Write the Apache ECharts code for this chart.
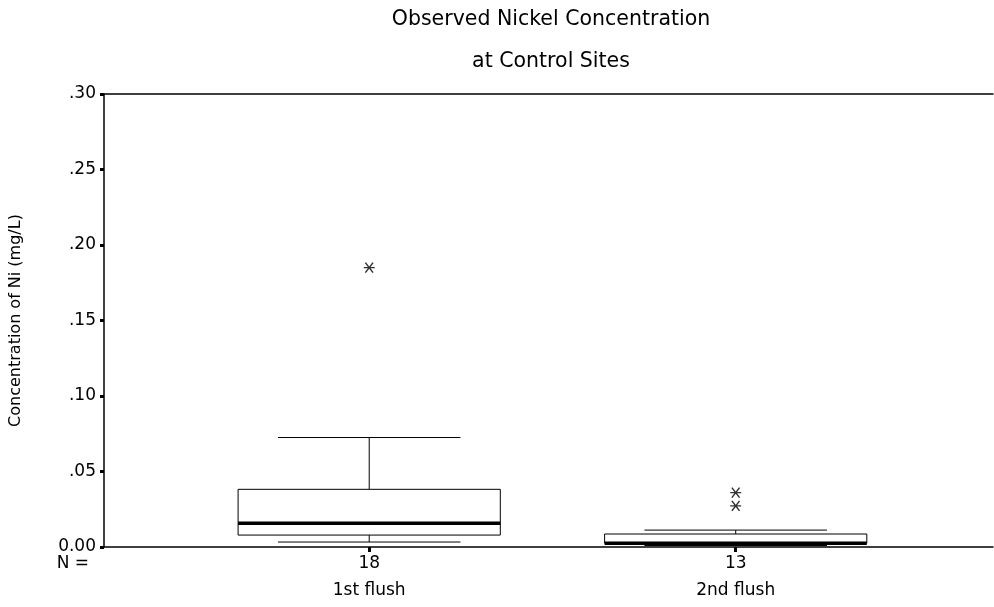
<!DOCTYPE html>
<html>
<head>
<meta charset="utf-8">
<script src="https://cdn.jsdelivr.net/npm/echarts@6/dist/echarts.min.js"></script>
<style>html,body{margin:0;padding:0;background:#fff}#c{width:994px;height:607px}</style>
</head>
<body>
<div id="c"></div>
<script>
const categories = ['1st flush', '2nd flush'];
const counts = [18, 13];
const lowerWhisker = [0.0033, 0.001];
const q1 = [0.0079, 0.0025];
const median = [0.0157, 0.0025];
const q3 = [0.0382, 0.0086];
const upperWhisker = [0.0725, 0.0112];
const outliers = [[1, 0.185], [2, 0.036], [2, 0.0272]];

const boxData = categories.map((c, i) => [i + 1, lowerWhisker[i], q1[i], median[i], q3[i], upperWhisker[i]]);
const FONT = 'DejaVu Sans';

const chart = echarts.init(document.getElementById('c'));
chart.setOption({
  animation: false,
  backgroundColor: '#fff',
  title: {
    text: 'Observed Nickel Concentration\nat Control Sites',
    left: 546, top: -6, textAlign: 'center',
    textStyle: { fontFamily: FONT, fontSize: 20.5, fontWeight: 'normal', color: '#000', lineHeight: 42 }
  },
  graphic: [{
    type: 'text', x: 89, y: 564,
    style: { text: 'N =', fontFamily: FONT, fontSize: 17, fill: '#000', align: 'right', verticalAlign: 'middle' }
  }],
  grid: { left: 97, right: 1, top: 94, bottom: 60 },
  xAxis: [{
    type: 'value', min: 0.2764, max: 2.702,
    axisLine: { lineStyle: { color: '#000', width: 1.5 } },
    axisTick: { customValues: [1, 2], length: 5, lineStyle: { color: '#000', width: 3 } },
    axisLabel: {
      customValues: [1, 2], margin: 3,
      formatter: v => counts[Math.round(v) - 1] + '\n' + categories[Math.round(v) - 1],
      fontFamily: FONT, fontSize: 17, color: '#000', lineHeight: 27
    },
    splitLine: { show: false }
  }, {
    type: 'value', position: 'top', min: 0.2764, max: 2.702,
    axisLine: { show: true, onZero: false, lineStyle: { color: '#000', width: 1.5 } },
    axisTick: { show: false }, axisLabel: { show: false }, splitLine: { show: false }
  }],
  yAxis: {
    type: 'value', min: 0, max: 0.3, interval: 0.05,
    name: 'Concentration of Ni (mg/L)', nameLocation: 'middle', nameGap: 80, nameRotate: 90,
    nameTextStyle: { fontFamily: FONT, fontSize: 16, color: '#000' },
    axisLine: { show: true, lineStyle: { color: '#000', width: 1.5 } },
    axisTick: { show: true, length: 4, lineStyle: { color: '#000', width: 3 } },
    axisLabel: {
      margin: 8, fontFamily: FONT, fontSize: 17, color: '#000',
      formatter: v => v === 0 ? '0.00' : v.toFixed(2).replace(/^0/, '')
    },
    splitLine: { show: false }
  },
  series: [{
    type: 'custom',
    xAxisIndex: 0,
    data: boxData,
    encode: { x: 0, y: [1, 2, 3, 4, 5] },
    renderItem: function (params, api) {
      const x = api.value(0);
      const halfBox = api.size([0.3577, 0])[0];
      const halfCap = api.size([0.249, 0])[0];
      const pl = api.coord([x, api.value(1)]);
      const p1 = api.coord([x, api.value(2)]);
      const pm = api.coord([x, api.value(3)]);
      const p3 = api.coord([x, api.value(4)]);
      const pu = api.coord([x, api.value(5)]);
      const cx = pm[0];
      const st = { stroke: '#000', lineWidth: 1, fill: null };
      return {
        type: 'group',
        children: [
          { type: 'line', shape: { x1: cx, y1: p3[1], x2: cx, y2: pu[1] }, style: st },
          { type: 'line', shape: { x1: cx - halfCap, y1: pu[1], x2: cx + halfCap, y2: pu[1] }, style: st },
          { type: 'line', shape: { x1: cx, y1: p1[1], x2: cx, y2: pl[1] }, style: st },
          { type: 'line', shape: { x1: cx - halfCap, y1: pl[1], x2: cx + halfCap, y2: pl[1] }, style: st },
          { type: 'rect', shape: { x: cx - halfBox, y: p3[1], width: 2 * halfBox, height: p1[1] - p3[1] },
            style: { stroke: '#000', lineWidth: 1, fill: '#fff' } },
          { type: 'line', shape: { x1: cx - halfBox, y1: pm[1], x2: cx + halfBox, y2: pm[1] },
            style: { stroke: '#000', lineWidth: 3.5 } }
        ]
      };
    }
  }, {
    type: 'scatter',
    xAxisIndex: 0,
    data: outliers,
    symbol: 'path://M0,5 L10,5 M1.5,0.5 L8.5,9.5 M8.5,0.5 L1.5,9.5',
    symbolSize: [11, 10],
    itemStyle: { color: 'none', borderColor: '#000', borderWidth: 1.4 }
  }]
});
</script>
</body>
</html>
